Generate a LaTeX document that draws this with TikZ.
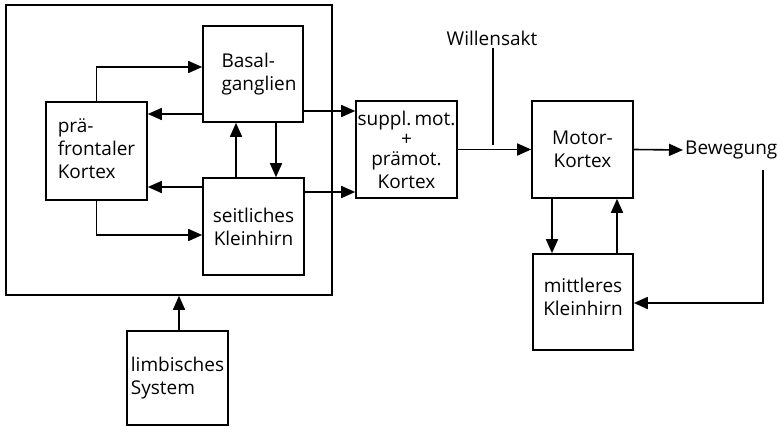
\documentclass[tikz,border=0pt]{standalone}
\usepackage{fontspec}
\setmainfont{Open Sans}
\usetikzlibrary{arrows.meta}
\begin{document}
\begin{tikzpicture}[x=1pt,y=-1pt,
  box/.style={draw,line width=1.6pt,inner sep=0pt,minimum width=101pt,minimum height=97pt,
    font=\fontsize{19}{23}\selectfont},
  lbl/.style={inner sep=2pt,font=\fontsize{19}{23}\selectfont},
  arr/.style={line width=1.6pt,-{Triangle[length=14pt,width=12pt]}},
  ln/.style={line width=1.6pt}]
\useasboundingbox (0,0) rectangle (778,428);
% frame round the cortico-subcortical loop
\node[draw,line width=1.6pt,minimum width=326pt,minimum height=290pt,inner sep=0pt] (outer) at (169,150) {};
% blocks
\node[box,minimum width=100pt,minimum height=96pt] (bg) at (253,74) {\hspace{12pt}\begin{tabular}{@{}l@{}}Basal-\\ganglien\end{tabular}};
\node[box,minimum height=98pt] (pf) at (96.5,151) {\begin{tabular}{@{}l@{}}prä-\\frontaler\\Kortex\end{tabular}\hspace{9pt}};
\node[box,align=center] (sk) at (253.5,226.5) {seitliches\\Kleinhirn};
\node[box,align=center] (sm) at (406.5,149.5) {suppl.\,mot.\\[-3pt]+\\[-3pt]prämot.\\Kortex};
\node[box,align=center] (mk) at (582.5,149.5) {Motor-\\Kortex};
\node[box,minimum width=100pt,minimum height=96pt,align=center] (mh) at (583,302) {mittleres\\Kleinhirn\\[-12pt]};
\node[box,minimum height=94pt] (lb) at (177.5,378) {\begin{tabular}{@{}l@{}}limbisches\\System\end{tabular}};
% free labels
\node[lbl] (wa) at (492,38) {Willensakt};
\node[lbl,anchor=west] (bw) at (683,150) {Bewegung};
\coordinate (wj) at (493,145);
% connections inside the frame
\draw[arr] (pf.north) |- ([yshift=7pt]bg.west);
\draw[arr] ([yshift=-40pt]bg.west) -- ([yshift=-40pt]bg.west -| pf.east);
\draw[arr] ([yshift=39.5pt]sk.west) -- ([yshift=39.5pt]sk.west -| pf.east);
\draw[arr] (pf.south) |- ([yshift=-8.5pt]sk.west);
\draw[arr] ([xshift=-17.5pt]sk.north) -- ([xshift=-17.5pt]sk.north |- bg.south);
\draw[arr] ([xshift=23pt]bg.south) -- ([xshift=23pt]bg.south |- sk.north);
% outputs towards the premotor block
\draw[arr] ([yshift=-37pt]bg.east) -- ([yshift=-37pt]bg.east -| sm.west);
\draw[arr] ([yshift=34.5pt]sk.east) -- ([yshift=34.5pt]sk.east -| sm.west);
% motor chain
\draw[arr] (sm.east) -- (mk.west);
\draw[ln] (wa.south -| wj) -- (wj);
\draw[arr] (mk.east) -- (bw.west);
\draw[arr] ([xshift=-30.5pt]mk.south) -- ([xshift=-30.5pt]mk.south |- mh.north);
\draw[arr] ([xshift=34pt]mh.north) -- ([xshift=34pt]mh.north |- mk.south);
\draw[arr] ([xshift=80pt,yshift=-20pt]bw.west) |- ([yshift=-1pt]mh.east);
\draw[arr] ([xshift=1.5pt]lb.north) -- ([xshift=1.5pt]lb.north |- outer.south);
\end{tikzpicture}
\end{document}
